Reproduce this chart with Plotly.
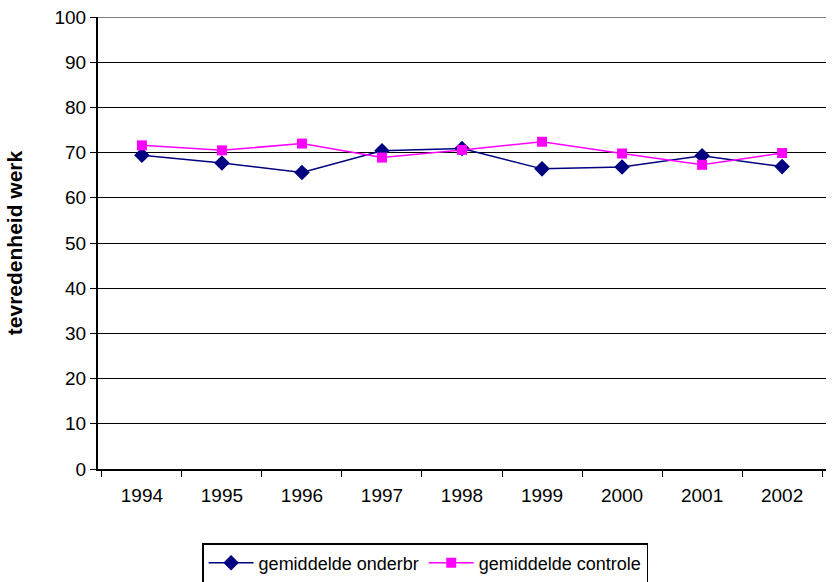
import plotly.graph_objects as go

years = ["1994", "1995", "1996", "1997", "1998", "1999", "2000", "2001", "2002"]
onderbr = [69.4, 67.7, 65.6, 70.4, 70.9, 66.4, 66.8, 69.3, 66.9]
controle = [71.6, 70.5, 72.0, 68.9, 70.6, 72.4, 69.8, 67.3, 69.9]
y_ticks = list(range(0, 101, 10))

font_family = "Liberation Sans, Arial, sans-serif"
FS = 19

fig = go.Figure()
fig.add_trace(go.Scatter(
    x=years, y=onderbr, name="gemiddelde onderbr", mode="lines+markers",
    line=dict(color="#000080", width=1.5),
    marker=dict(symbol="diamond", size=12, color="#000080"),
))
fig.add_trace(go.Scatter(
    x=years, y=controle, name="gemiddelde controle", mode="lines+markers",
    line=dict(color="#FF00FF", width=1.5),
    marker=dict(symbol="square", size=10, color="#FF00FF"),
))

fig.update_layout(
    width=833, height=582,
    margin=dict(l=98, r=7, t=17, b=113),
    paper_bgcolor="white", plot_bgcolor="white",
    font=dict(family=font_family, size=FS, color="black"),
    showlegend=True,
    legend=dict(
        orientation="h", x=0.143, xanchor="left",
        yref="container", y=1 - 543 / 582, yanchor="top",
        bordercolor="black", borderwidth=1.5, font=dict(size=18),
        tracegroupgap=0, itemwidth=45,
    ),
    xaxis=dict(
        type="category", tickson="boundaries", ticks="outside", ticklen=6,
        tickcolor="black", showline=True, linecolor="black", linewidth=2,
        showgrid=False, tickfont=dict(size=FS), ticklabelstandoff=8,
    ),
    yaxis=dict(
        range=[0, 100], tickvals=y_ticks, ticks="outside", ticklen=6,
        tickcolor="black", showline=True, linecolor="black", linewidth=2,
        showgrid=True, gridcolor="black", gridwidth=1, zeroline=False,
        tickfont=dict(size=FS),
        title=dict(text="<b>tevredenheid werk</b>", font=dict(size=21), standoff=26),
    ),
)
fig.add_shape(type="line", xref="paper", yref="y", x0=0, x1=1, y0=100, y1=100,
              line=dict(color="#808080", width=2))

fig.write_html("out.html", post_script="document.body.style.margin='0';",
               config={"displayModeBar": False})
